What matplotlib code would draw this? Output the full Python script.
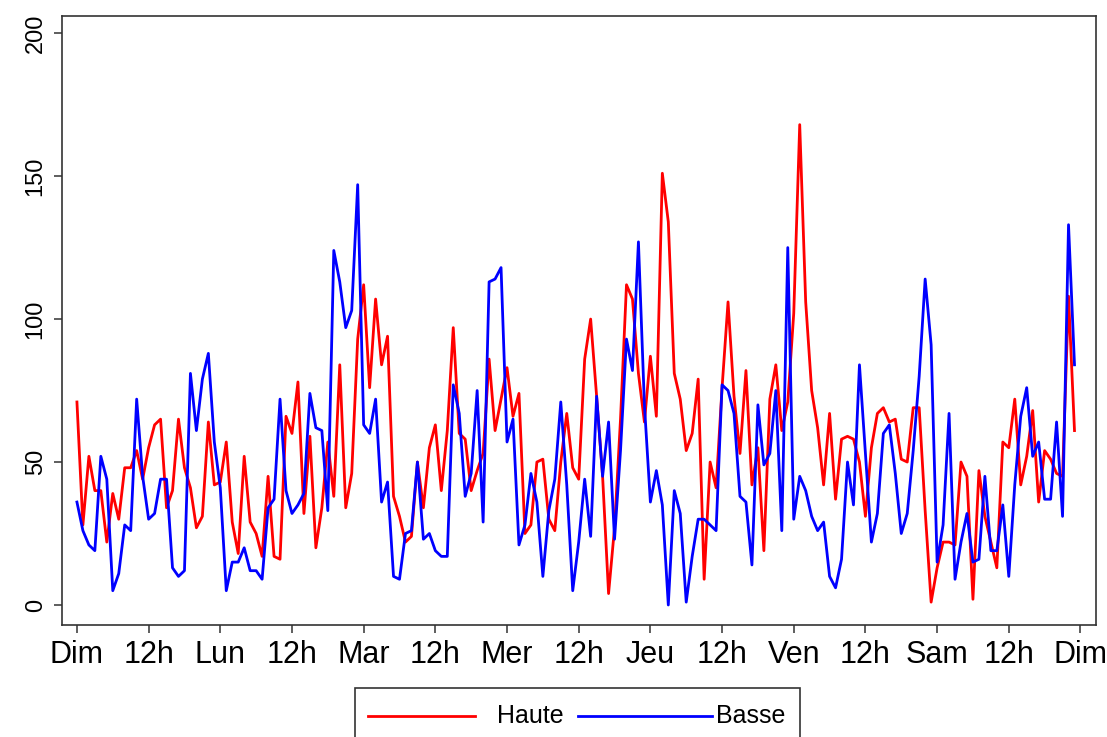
import numpy as np
import matplotlib
matplotlib.use('Agg')
import matplotlib.pyplot as plt
from matplotlib.lines import Line2D
from matplotlib.patches import Rectangle

plt.rcParams['font.family'] = ['Liberation Sans', 'DejaVu Sans']

# valeurs horaires sur une semaine (Dim 0h -> Sam 23h)
haute = [71, 28, 52, 40, 40, 22, 39, 30, 48, 48, 54, 44, 55, 63, 65, 34, 40, 65, 48, 41, 27, 31, 64, 42,
         43, 57, 29, 18, 52, 29, 25, 17, 45, 17, 16, 66, 60, 78, 32, 59, 20, 34, 57, 38, 84, 34, 46, 93,
         112, 76, 107, 84, 94, 38, 31, 22, 24, 50, 34, 55, 63, 40, 61, 97, 60, 58, 40, 47, 53, 86, 61, 72,
         83, 66, 74, 25, 28, 50, 51, 30, 26, 50, 67, 48, 44, 86, 100, 73, 45, 4, 27, 65, 112, 107, 81, 64,
         87, 66, 151, 134, 81, 72, 54, 60, 79, 9, 50, 41, 76, 106, 73, 53, 82, 42, 55, 19, 72, 84, 61, 71,
         102, 168, 106, 75, 62, 42, 67, 37, 58, 59, 58, 50, 31, 55, 67, 69, 64, 65, 51, 50, 69, 69, 33, 1,
         13, 22, 22, 21, 50, 45, 2, 47, 31, 22, 13, 57, 55, 72, 42, 52, 68, 36, 54, 51, 46, 45, 108, 61]

basse = [36, 26, 21, 19, 52, 44, 5, 11, 28, 26, 72, 45, 30, 32, 44, 44, 13, 10, 12, 81, 61, 79, 88, 57,
         41, 5, 15, 15, 20, 12, 12, 9, 34, 37, 72, 40, 32, 35, 39, 74, 62, 61, 33, 124, 113, 97, 103, 147,
         63, 60, 72, 36, 43, 10, 9, 25, 26, 50, 23, 25, 19, 17, 17, 77, 67, 38, 46, 75, 29, 113, 114, 118,
         57, 65, 21, 28, 46, 36, 10, 33, 44, 71, 42, 5, 22, 44, 24, 73, 45, 64, 23, 54, 93, 82, 127, 70,
         36, 47, 35, 0, 40, 32, 1, 17, 30, 30, 28, 26, 77, 75, 67, 38, 36, 14, 70, 49, 53, 75, 26, 125,
         30, 45, 40, 31, 26, 29, 10, 6, 16, 50, 35, 84, 53, 22, 32, 60, 63, 46, 25, 32, 54, 80, 114, 91,
         15, 28, 67, 9, 22, 32, 15, 16, 45, 19, 19, 35, 10, 42, 66, 76, 52, 57, 37, 37, 64, 31, 133, 84]

tick_hours = list(range(0, 169, 12))
tick_labels = ['Dim', '12h', 'Lun', '12h', 'Mar', '12h', 'Mer', '12h',
               'Jeu', '12h', 'Ven', '12h', 'Sam', '12h', 'Dim']
y_ticks = [0, 50, 100, 150, 200]

W, H = 1107, 737
fig = plt.figure(figsize=(W / 100, H / 100), dpi=100)
ax = fig.add_axes([62 / W, 1 - 625 / H, (1096 - 62) / W, (625 - 16) / H])

hours = np.arange(len(haute))
ax.plot(hours, haute, color='#FF0000', lw=2.0)
ax.plot(hours, basse, color='#0000FF', lw=2.0)

ax.set_xlim(-2.5, 170.6)
ax.set_ylim(-7, 206)
ax.set_xticks(tick_hours)
ax.set_xticklabels(tick_labels, fontsize=22)
ax.set_yticks(y_ticks)
ax.set_yticklabels([str(v) for v in y_ticks], fontsize=17, rotation=90, va='center')
ax.tick_params(axis='both', length=6, width=1.1, color='#333333')
ax.tick_params(axis='x', pad=5)
ax.tick_params(axis='y', pad=5)
for s in ax.spines.values():
    s.set_color('#333333')
    s.set_linewidth(1.2)

# legende horizontale sous le graphique (style R)
def fx(px):
    return px / W

def fy(py):
    return 1 - py / H

fig.add_artist(Rectangle((fx(355), fy(745)), fx(800) - fx(355), fy(688) - fy(745),
                         transform=fig.transFigure, fill=False, edgecolor='#333333',
                         lw=1.2, clip_on=False))
fig.add_artist(Line2D([fx(368), fx(475)], [fy(716), fy(716)], color='#FF0000', lw=2.0,
                      transform=fig.transFigure))
fig.add_artist(Line2D([fx(578), fx(712)], [fy(716), fy(716)], color='#0000FF', lw=2.0,
                      transform=fig.transFigure))
fig.text(fx(497), fy(716), 'Haute', fontsize=18, va='center', ha='left')
fig.text(fx(716), fy(716), 'Basse', fontsize=18, va='center', ha='left')

fig.savefig('out.png', dpi=100, facecolor='white')
